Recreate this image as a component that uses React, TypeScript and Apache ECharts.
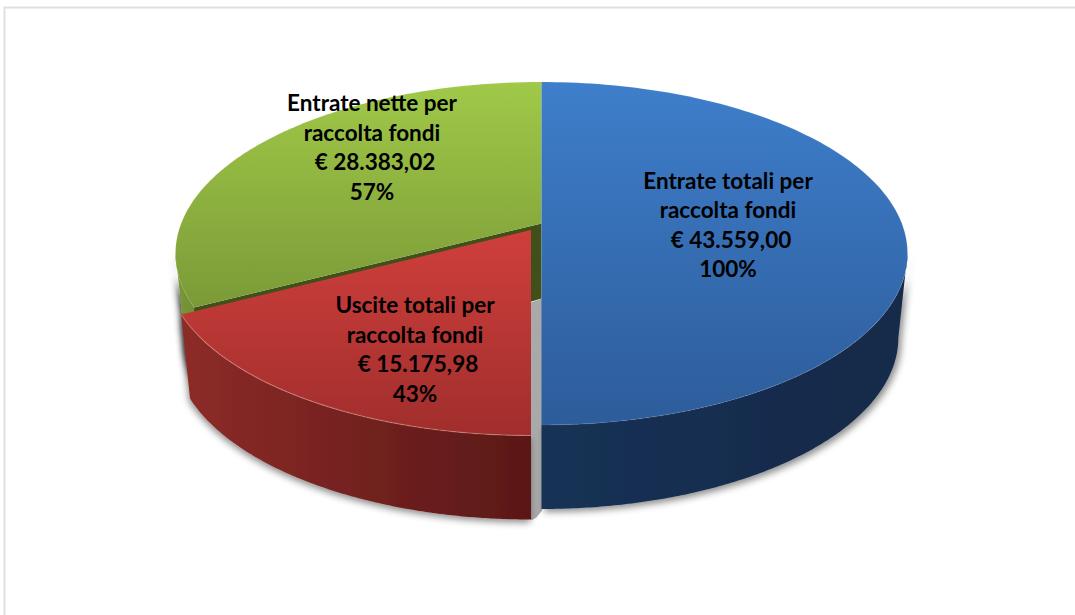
import React, { useEffect, useRef } from "react";
import * as echarts from "echarts";

const categories = ["Entrate totali per raccolta fondi", "Uscite totali per raccolta fondi", "Entrate nette per raccolta fondi"];
const values = [43559.0, 15175.98, 28383.02];
const valueLabels = ["€ 43.559,00", "€ 15.175,98", "€ 28.383,02"];
const percentLabels = ["100%", "43%", "57%"];
const nameLines = [
  ["Entrate totali per", "raccolta fondi"],
  ["Uscite totali per", "raccolta fondi"],
  ["Entrate nette per", "raccolta fondi"],
];

const RX = 366, RY = 171.5, DEPTH = 84, BOTTOM_SCALE = 0.975;
const CENTER = [541.5, 253.5];
const explode = [[0, 0], [-10.5, 10.5], [0, 0]];
const tipLift = [30, 34, 30];
const labelPos = [[728, 180], [415, 304.5], [372, 102.5]];
const LINE_H = 29.6;
const FONT = 'bold 22.5px Lato, Carlito, "Noto Sans", sans-serif';
const topColors = [["#3e7ecb", "#2d5c9a"], ["#cf3f3c", "#a02e2c"], ["#a0c948", "#7b9a37"]];
const sideColors = [["#183155", "#142948"], ["#8d2b28", "#5a1817"], ["#7b9a38", "#6a8730"]];
const rimColor = ["rgba(255,255,255,0.08)", "rgba(255,190,180,0.35)", "rgba(255,255,255,0.08)"];
const Z = [[5, 6], [8, 9], [1, 3]];

const total = values.reduce((a, b) => a + b, 0);

function rayToEllipse(tx: number, ty: number, theta: number, cx: number, cy: number) {
  const dx = Math.sin(theta);
  const dy = (-Math.cos(theta) * RY) / RX;
  const px = tx - cx, py = ty - cy;
  const a = (dx * dx) / (RX * RX) + (dy * dy) / (RY * RY);
  const b = 2 * ((px * dx) / (RX * RX) + (py * dy) / (RY * RY));
  const c = (px * px) / (RX * RX) + (py * py) / (RY * RY) - 1;
  const s = (-b + Math.sqrt(b * b - 4 * a * c)) / (2 * a);
  const x = tx + s * dx, y = ty + s * dy;
  return Math.atan2((x - cx) / RX, -(y - cy) / RY);
}

function arc(cx: number, cy: number, rx: number, ry: number, a0: number, a1: number) {
  const pts: number[][] = [];
  const n = 160;
  for (let i = 0; i <= n; i++) {
    const t = a0 + ((a1 - a0) * i) / n;
    pts.push([cx + rx * Math.sin(t), cy - ry * Math.cos(t)]);
  }
  return pts;
}

function renderSlice(params: any, api: any) {
  const i = params.dataIndex;
  let before = 0;
  for (let k = 0; k < i; k++) before += values[k];
  const v = api.value(0);
  const th0 = (before / total) * Math.PI * 2;
  const th1 = ((before + v) / total) * Math.PI * 2;
  const cx = CENTER[0] + explode[i][0];
  const cy = CENTER[1] + explode[i][1];
  const tip = [cx, cy - tipLift[i]];
  const norm = (t: number) => (t < 0 ? t + Math.PI * 2 : t);
  let a0 = norm(rayToEllipse(tip[0], tip[1], th0, cx, cy));
  let a1 = norm(rayToEllipse(tip[0], tip[1], th1, cx, cy));
  if (i === 0) { a0 = 0; a1 = Math.PI; }
  if (i === 2) a1 = Math.PI * 2;
  if (i === 1) a0 = Math.PI;

  const topArc = arc(cx, cy, RX, RY, a0, a1);
  const children: any[] = [];
  const grad = (c: string[], hor: boolean) =>
    new echarts.graphic.LinearGradient(0, 0, hor ? 1 : 0, hor ? 0 : 1, [
      { offset: 0, color: c[0] },
      { offset: 1, color: c[1] },
    ]);

  // outer wall: only the part of the rim that faces the viewer
  const wA0 = i === 0 ? Math.PI / 2 : a0;
  const wA1 = i === 2 ? Math.PI * 1.5 : a1;
  const wallTop = arc(cx, cy, RX, RY, wA0, wA1);
  const wallBottom = arc(cx, cy + DEPTH, RX * BOTTOM_SCALE, RY, wA0, wA1).reverse();
  children.push({
    type: "polygon",
    z2: Z[i][0],
    shape: { points: wallTop.concat(wallBottom) },
    style: {
      fill: grad(sideColors[i], true),
      shadowColor: i === 2 ? "transparent" : "rgba(0,0,0,0.45)",
      shadowBlur: 7,
      shadowOffsetX: i === 0 ? 3 : -1,
      shadowOffsetY: 3,
    },
  });

  if (i === 2) {
    // cut face of the green slice, seen between the slices, and the shadow gap below it
    const start = arc(cx, cy, RX, RY, a0, a0)[0];
    children.push({
      type: "polygon",
      z2: 2,
      shape: { points: [tip, start, [start[0], start[1] + 10], [tip[0] - 10, tip[1] + 78], [tip[0], tip[1] + 75]] },
      style: { fill: "#414f19" },
    });
    children.push({
      type: "polygon",
      z2: 2,
      shape: {
        points: [
          [tip[0] - 10.5, tip[1] + 79],
          [tip[0] + 0.5, tip[1] + 75],
          [tip[0] + 0.5, tip[1] + 287],
          [tip[0] - 5, tip[1] + 294],
          [tip[0] - 10.5, tip[1] + 297],
        ],
      },
      style: { fill: "#a9a9a9" },
    });
  }

  const topPts = i === 0 ? topArc : [tip].concat(topArc);
  children.push({
    type: "polygon",
    z2: Z[i][1],
    shape: { points: topPts },
    style: { fill: grad(topColors[i], false) },
  });
  children.push({
    type: "polyline",
    z2: Z[i][1],
    shape: { points: topArc },
    style: { fill: "none", stroke: rimColor[i], lineWidth: 1.2 },
  });

  const lines = [...nameLines[i], valueLabels[i], percentLabels[i]];
  lines.forEach((text, k) => {
    children.push({
      type: "text",
      z2: 20,
      style: {
        text,
        x: labelPos[i][0] + (k === 2 ? 3 : 0),
        y: labelPos[i][1] + k * LINE_H,
        font: FONT,
        fill: "#000000",
        align: "center",
        verticalAlign: "middle",
      },
    });
  });
  return { type: "group", children };
}

export default function App() {
  const ref = useRef<HTMLDivElement>(null);
  useEffect(() => {
    document.body.style.margin = "0";
    document.body.style.overflow = "hidden";
    const chart = echarts.init(ref.current!, null, { renderer: "svg" });
    chart.setOption({
      animation: false,
      backgroundColor: "#ffffff",
      graphic: [
        { type: "rect", shape: { x: 4.5, y: 7.5, width: 1100, height: 700 }, style: { fill: "none", stroke: "#e0e0e0", lineWidth: 2 }, silent: true },
      ],
      series: [
        {
          type: "custom",
          coordinateSystem: "none",
          silent: true,
          renderItem: renderSlice,
          data: categories.map((name, i) => ({ name, value: [values[i]] })),
        },
      ],
    });
    return () => chart.dispose();
  }, []);
  return <div ref={ref} style={{ width: 1075, height: 615 }} />;
}
